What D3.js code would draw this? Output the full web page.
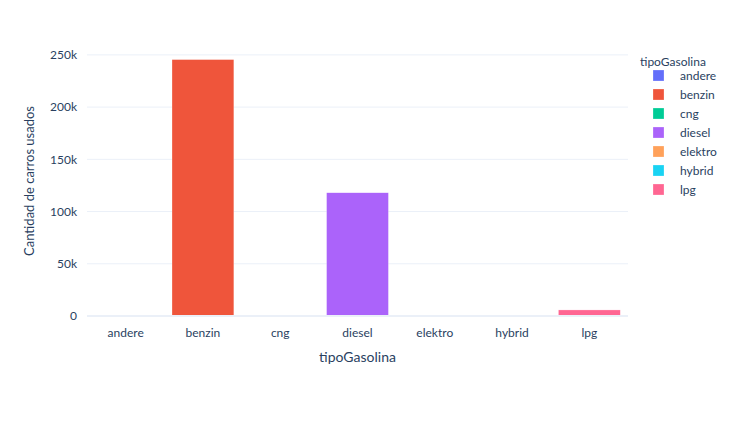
<!DOCTYPE html>
<html>
<head>
<meta charset="utf-8">
<script src="https://cdn.jsdelivr.net/npm/d3@7"></script>
<style>
  body { margin: 0; background: #fff; }
  text { font-family: "Lato", "Noto Sans", sans-serif; fill: #2a3f5f; }
</style>
</head>
<body>
<script>
// datos
const categorias = ["andere", "benzin", "cng", "diesel", "elektro", "hybrid", "lpg"];
const cantidades = [220, 245500, 600, 118000, 110, 300, 5800];
const colores = ["#636efa", "#EF553B", "#00cc96", "#ab63fa", "#FFA15A", "#19d3f3", "#FF6692"];
const yTicks = [0, 50000, 100000, 150000, 200000, 250000];

const width = 742, height = 430;
const plot = { left: 87, right: 628, top: 46, bottom: 316 };

const svg = d3.select("body").append("svg")
    .attr("width", width)
    .attr("height", height);

const x = d3.scaleBand()
    .domain(categorias)
    .range([plot.left, plot.right])
    .paddingInner(0.2)
    .paddingOuter(0.1);

const y = d3.scaleLinear()
    .domain([0, d3.max(cantidades) * 1.053])
    .range([plot.bottom, plot.top]);

// lineas de la grilla
svg.append("g")
    .selectAll("line")
    .data(yTicks.filter(d => d > 0))
    .enter().append("line")
    .attr("x1", plot.left)
    .attr("x2", plot.right)
    .attr("y1", d => y(d))
    .attr("y2", d => y(d))
    .attr("stroke", "#EBF0F8")
    .attr("stroke-width", 1);

// etiquetas eje y
svg.append("g")
    .selectAll("text")
    .data(yTicks)
    .enter().append("text")
    .attr("x", plot.left - 10)
    .attr("y", d => y(d))
    .attr("dy", "0.35em")
    .attr("text-anchor", "end")
    .attr("font-size", 12)
    .text(d => d === 0 ? "0" : (d / 1000) + "k");

// barras
svg.append("g")
    .selectAll("rect")
    .data(categorias)
    .enter().append("rect")
    .attr("x", d => x(d))
    .attr("width", x.bandwidth())
    .attr("y", (d, i) => y(cantidades[i]))
    .attr("height", (d, i) => y(0) - y(cantidades[i]))
    .attr("fill", (d, i) => colores[i])
    .attr("stroke", "#fff")
    .attr("stroke-opacity", 0.5)
    .attr("stroke-width", 0.5);

// linea del cero
svg.append("line")
    .attr("x1", plot.left)
    .attr("x2", plot.right)
    .attr("y1", y(0))
    .attr("y2", y(0))
    .attr("stroke", "#EBF0F8")
    .attr("stroke-width", 2);

// etiquetas eje x
svg.append("g")
    .selectAll("text")
    .data(categorias)
    .enter().append("text")
    .attr("x", d => x(d) + x.bandwidth() / 2)
    .attr("y", plot.bottom + 21)
    .attr("text-anchor", "middle")
    .attr("font-size", 12)
    .text(d => d);

// titulos de ejes
svg.append("text")
    .attr("x", (plot.left + plot.right) / 2)
    .attr("y", 362)
    .attr("text-anchor", "middle")
    .attr("font-size", 14)
    .text("tipoGasolina");

svg.append("text")
    .attr("transform", `translate(34,${(plot.top + plot.bottom) / 2}) rotate(-90)`)
    .attr("text-anchor", "middle")
    .attr("font-size", 13)
    .text("Cantidad de carros usados");

// leyenda
const legend = svg.append("g").attr("transform", "translate(640,0)");
legend.append("text")
    .attr("x", 0)
    .attr("y", 62)
    .attr("dy", "0.35em")
    .attr("font-size", 12)
    .text("tipoGasolina");

const item = legend.selectAll(".item")
    .data(categorias)
    .enter().append("g")
    .attr("class", "item")
    .attr("transform", (d, i) => `translate(0,${76 + i * 19})`);

item.append("rect")
    .attr("x", 13)
    .attr("y", -6)
    .attr("width", 11)
    .attr("height", 11)
    .attr("fill", (d, i) => colores[i])
    .attr("stroke", "#fff")
    .attr("stroke-opacity", 0.5)
    .attr("stroke-width", 0.5);

item.append("text")
    .attr("x", 40)
    .attr("y", 0)
    .attr("dy", "0.35em")
    .attr("font-size", 12)
    .text(d => d);
</script>
</body>
</html>
